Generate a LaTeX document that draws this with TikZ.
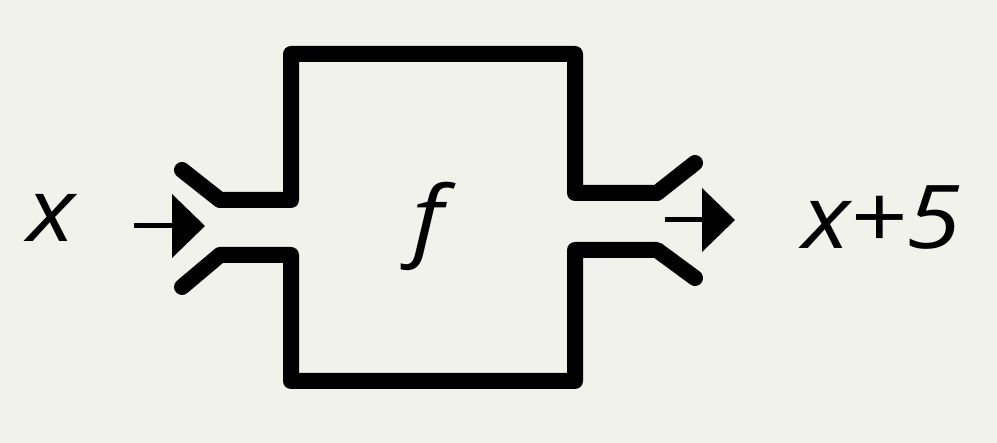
\documentclass[tikz,border=0pt]{standalone}
\usepackage{fontspec}
\setmainfont{Open Sans}
\newfontfamily\lblfont[FakeStretch=1.13]{Open Sans}
\definecolor{bgc}{RGB}{242,242,236}
\begin{document}
\begin{tikzpicture}[x=1pt,y=-1pt,
  pipe/.style={line width=16pt,line cap=round,line join=round},
  shaft/.style={line width=5pt},
  lbl/.style={font=\lblfont\fontsize{88}{100}\selectfont\itshape,inner sep=0pt,anchor=base west}]
\fill[bgc] (0,0) rectangle (997,443);
\useasboundingbox (0,0) rectangle (997,443);
% pipe outline
\draw[pipe] (182,170) -- (220,200) -- (291,200) -- (291,54) -- (575,54) -- (575,193) -- (657,193) -- (695,163);
\draw[pipe] (182,287) -- (220,255) -- (291,255) -- (291,381) -- (575,381) -- (575,250) -- (657,250) -- (695,278);
% input arrow
\coordinate (inS) at (134,226);
\coordinate (inB) at (172,226);
\draw[shaft] (inS) -- (inB);
\fill (172,194) -- (205,226) -- (172,258) -- cycle;
% output arrow
\coordinate (outS) at (665,220);
\coordinate (outB) at (702,220);
\draw[shaft] (outS) -- (outB);
\fill (702,188) -- (735,220) -- (702,252) -- cycle;
% labels
\node[lbl] (xin) at (27,242) {x};
\node[lbl] (fn) at (412,250) {f};
\node[lbl] (xout) at (802,249) {x+5};
\end{tikzpicture}
\end{document}
